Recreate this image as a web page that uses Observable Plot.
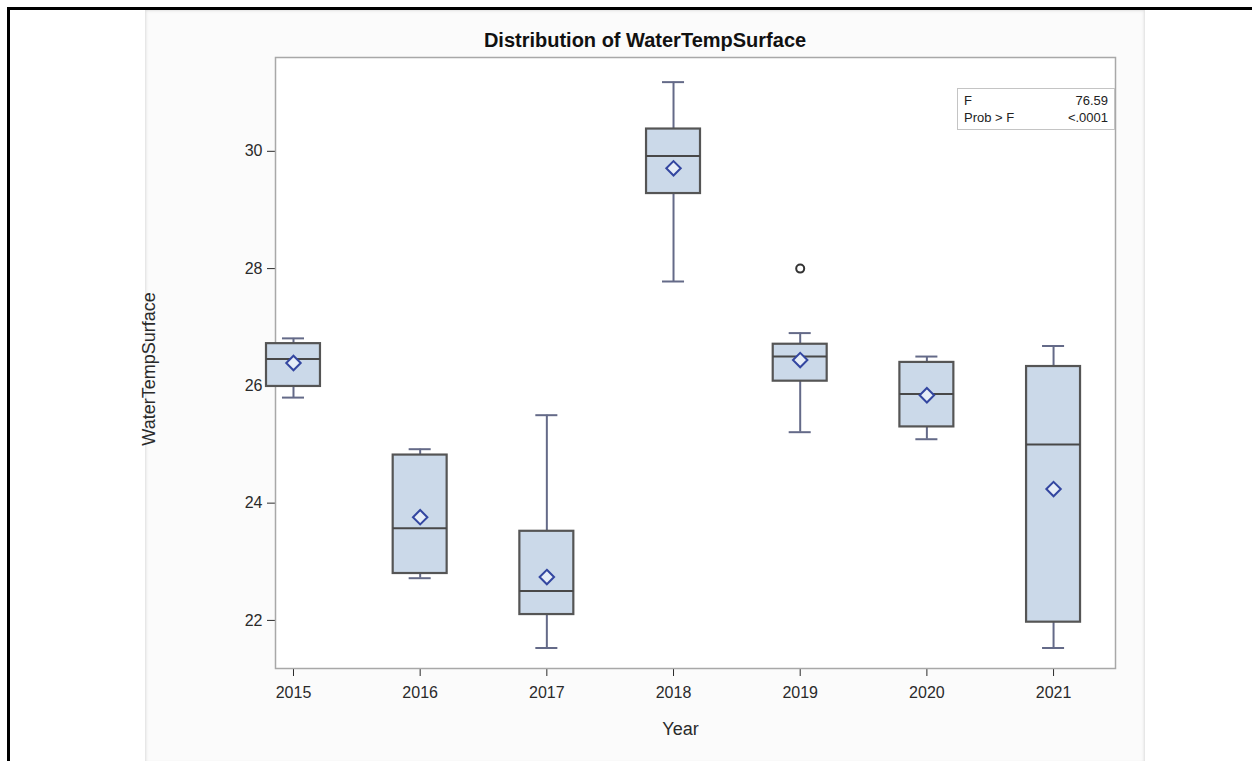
<!DOCTYPE html>
<html>
<head>
<meta charset="utf-8">
<script src="https://cdn.jsdelivr.net/npm/d3@7"></script>
<script src="https://cdn.jsdelivr.net/npm/@observablehq/plot@0.6"></script>
<style>
  html, body { margin: 0; padding: 0; background: #fff; width: 1252px; height: 761px; overflow: hidden; }
  body { position: relative; font-family: "Liberation Sans", Arial, sans-serif; }
  #outer { position: absolute; left: 7px; top: 7px; width: 1245px; height: 754px; border-top: 3px solid #000; border-left: 3px solid #000; box-sizing: border-box; }
  #panel { position: absolute; left: 145px; top: 10px; width: 1000px; height: 751px; background: #fbfbfb; box-shadow: inset 3px 0 3px -2px #ddd, inset -3px 0 3px -2px #ddd, inset 0 3px 3px -2px #e4e4e4; }
  #title { position: absolute; left: 0; width: 1000px; top: 19px; text-align: center; font-weight: bold; font-size: 20px; color: #111; }
  #chart { position: absolute; left: -10px; top: 45px; }
  #inset { position: absolute; left: 812px; top: 78px; width: 156px; height: 40px; border: 1px solid #c4c4c4; background: #fff; font-size: 13px; color: #222; }
  #inset div { position: absolute; }
</style>
</head>
<body>
<div id="outer"></div>
<div id="panel">
  <div id="title">Distribution of WaterTempSurface</div>
  <div id="chart"></div>
  <div id="inset">
    <div style="left:6px; top:4px;">F</div>
    <div style="right:6px; top:4px;">76.59</div>
    <div style="left:6px; top:21px;">Prob &gt; F</div>
    <div style="right:6px; top:21px;">&lt;.0001</div>
  </div>
</div>
<script>
const years      = [2015, 2016, 2017, 2018, 2019, 2020, 2021];
const whiskerLo  = [25.80, 22.72, 21.53, 27.78, 25.21, 25.09, 21.53];
const q1         = [25.99, 22.80, 22.10, 29.28, 26.08, 25.30, 21.97];
const median     = [26.46, 23.57, 22.50, 29.92, 26.50, 25.86, 25.00];
const q3         = [26.72, 24.82, 23.52, 30.38, 26.71, 26.40, 26.33];
const whiskerHi  = [26.81, 24.92, 25.50, 31.18, 26.90, 26.50, 26.68];
const means      = [26.39, 23.76, 22.74, 29.71, 26.44, 25.84, 24.24];
const outlierYears  = [2019];
const outlierValues = [28.0];
const yTicks = [22, 24, 26, 28, 30];
const xLabel = ["Year"];
const yLabel = ["WaterTempSurface"];

const boxHalf = 0.213, capHalf = 0.087;
const data = years.map((y, i) => ({
  year: y, lo: whiskerLo[i], q1: q1[i], med: median[i], q3: q3[i], hi: whiskerHi[i], mean: means[i]
}));
const outliers = outlierYears.map((y, i) => ({year: y, value: outlierValues[i]}));

const boxFill = "#cbd9e9", boxStroke = "#555", whisk = "#646a88", meanC = "#3346a0";

const chart = Plot.plot({
  width: 1010,
  height: 706,
  marginLeft: 140,
  marginRight: 30,
  marginTop: 2,
  marginBottom: 93,
  style: { fontFamily: "Liberation Sans, Arial, sans-serif", fontSize: "16px", color: "#2a2a2a", background: "transparent" },
  x: { domain: [2014.858, 2021.489], ticks: years, tickFormat: d => String(d), label: null, tickSize: 8, tickPadding: 10 },
  y: { domain: [21.18, 31.60], ticks: yTicks, label: null, tickSize: 8, tickPadding: 5 },
  marks: [
    Plot.frame({ fill: "#fff", stroke: "#a8a8a8", strokeWidth: 1.5 }),
    Plot.ruleX(data, { x: "year", y1: "lo", y2: "q1", stroke: whisk, strokeWidth: 2 }),
    Plot.ruleX(data, { x: "year", y1: "q3", y2: "hi", stroke: whisk, strokeWidth: 2 }),
    Plot.ruleY(data, { y: "lo", x1: d => d.year - capHalf, x2: d => d.year + capHalf, stroke: whisk, strokeWidth: 2 }),
    Plot.ruleY(data, { y: "hi", x1: d => d.year - capHalf, x2: d => d.year + capHalf, stroke: whisk, strokeWidth: 2 }),
    Plot.rect(data, { x1: d => d.year - boxHalf, x2: d => d.year + boxHalf, y1: "q1", y2: "q3", fill: boxFill, stroke: boxStroke, strokeWidth: 2.2 }),
    Plot.ruleY(data, { y: "med", x1: d => d.year - boxHalf, x2: d => d.year + boxHalf, stroke: "#484848", strokeWidth: 2 }),
    Plot.dot(data, { x: "year", y: "mean", symbol: "diamond2", r: 6.5, stroke: meanC, strokeWidth: 2, fill: "#e6edf7" }),
    Plot.dot(outliers, { x: "year", y: "value", symbol: "circle", r: 4, stroke: "#333", strokeWidth: 2, fill: "#fff" }),
    Plot.text(xLabel, { frameAnchor: "bottom", dx: -15, dy: 66, fontSize: 18, fill: "#2a2a2a" }),
    Plot.text(yLabel, { frameAnchor: "left", textAnchor: "middle", lineAnchor: "middle", rotate: -90, dx: -126, dy: 6, fontSize: 18, fill: "#2a2a2a" })
  ]
});
document.getElementById("chart").appendChild(chart);
</script>
</body>
</html>
